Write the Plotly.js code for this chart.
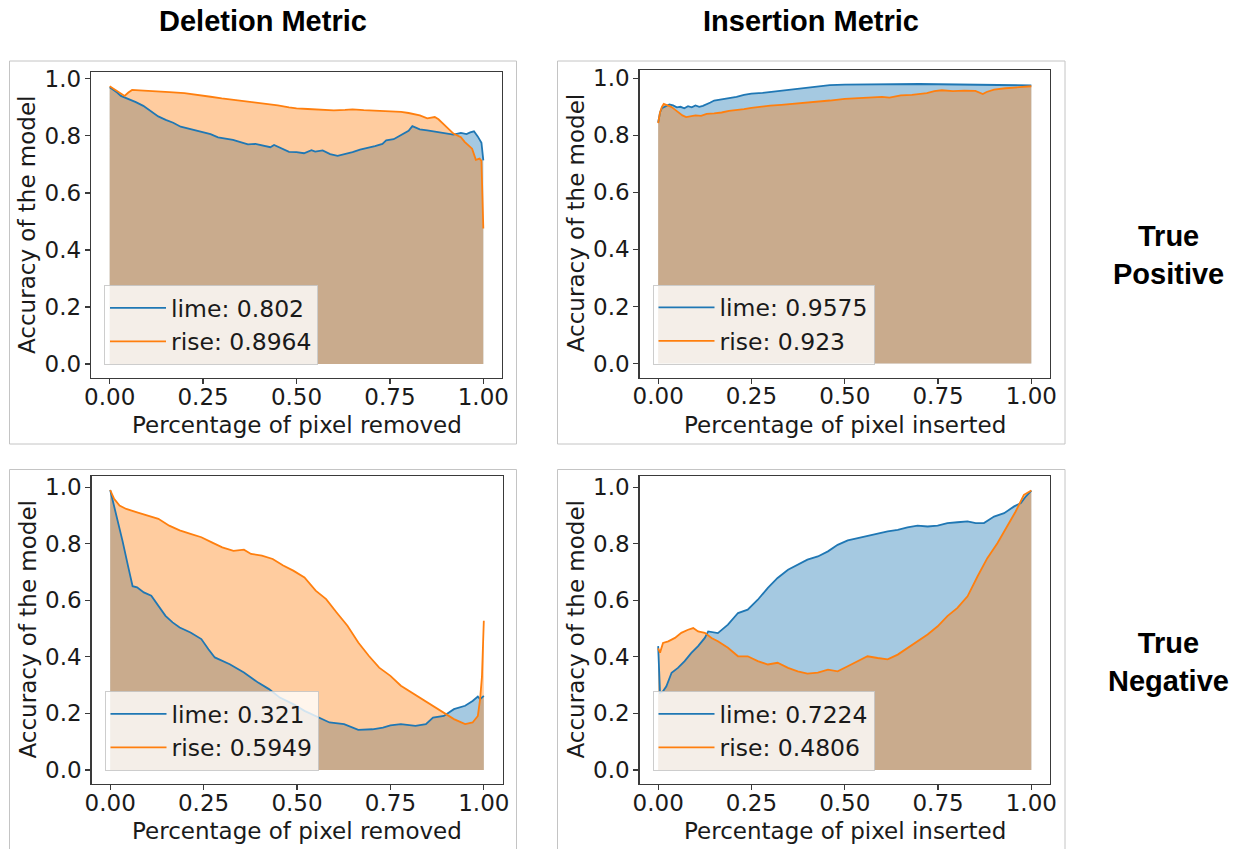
<!DOCTYPE html>
<html>
<head>
<meta charset="utf-8">
<script src="https://cdn.plot.ly/plotly-3.0.1.min.js"></script>
<style>html,body{margin:0;padding:0;background:#fff;}#chart{width:1239px;height:849px;}</style>
</head>
<body>
<div id="chart"></div>
<script>
// ---------- Data ----------
const colTitles = ["Deletion Metric", "Insertion Metric"];
const rowTitles = ["True<br>Positive", "True<br>Negative"];
const xAxisTitles = ["Percentage of pixel removed", "Percentage of pixel inserted"];
const yAxisTitle = "Accuracy of the model";
const xTickVals = [0, 0.25, 0.5, 0.75, 1.0];
const yTickVals = [0, 0.2, 0.4, 0.6, 0.8, 1.0];

// Deletion, True Positive
const delTPLimeName = "lime: 0.802";
const delTPLimeX = [0,0.01,0.02,0.03,0.04,0.05,0.07,0.09,0.11,0.13,0.15,0.17,0.19,0.21,0.23,0.25,0.27,0.29,0.31,0.33,0.35,0.37,0.39,0.41,0.43,0.44,0.46,0.48,0.50,0.52,0.54,0.55,0.57,0.59,0.61,0.63,0.65,0.67,0.69,0.71,0.73,0.74,0.76,0.78,0.80,0.81,0.83,0.85,0.87,0.89,0.91,0.92,0.94,0.955,0.965,0.975,0.985,0.99,0.995,1.0];
const delTPLimeY = [0.970,0.962,0.952,0.940,0.935,0.928,0.918,0.905,0.886,0.868,0.856,0.846,0.832,0.826,0.820,0.812,0.806,0.795,0.790,0.786,0.778,0.770,0.772,0.766,0.760,0.768,0.755,0.744,0.743,0.739,0.750,0.745,0.749,0.736,0.730,0.736,0.743,0.752,0.757,0.764,0.772,0.784,0.788,0.802,0.818,0.834,0.823,0.819,0.815,0.810,0.808,0.804,0.810,0.806,0.812,0.816,0.798,0.784,0.776,0.714];
const delTPRiseName = "rise: 0.8964";
const delTPRiseX = [0,0.01,0.02,0.03,0.04,0.05,0.06,0.08,0.10,0.13,0.16,0.20,0.24,0.27,0.30,0.33,0.36,0.40,0.43,0.45,0.48,0.50,0.53,0.55,0.58,0.60,0.63,0.65,0.68,0.70,0.73,0.75,0.78,0.80,0.83,0.85,0.87,0.88,0.90,0.92,0.94,0.95,0.97,0.98,0.99,0.995,1.0];
const delTPRiseY = [0.974,0.965,0.955,0.946,0.940,0.952,0.961,0.959,0.958,0.955,0.953,0.950,0.944,0.937,0.931,0.926,0.921,0.916,0.911,0.907,0.900,0.896,0.894,0.892,0.890,0.889,0.891,0.893,0.890,0.889,0.887,0.886,0.884,0.880,0.872,0.861,0.866,0.858,0.833,0.808,0.795,0.779,0.755,0.716,0.720,0.712,0.475];

// Insertion, True Positive
const insTPLimeName = "lime: 0.9575";
const insTPLimeX = [0,0.005,0.01,0.02,0.03,0.04,0.05,0.06,0.07,0.08,0.09,0.10,0.11,0.12,0.13,0.14,0.15,0.17,0.19,0.21,0.23,0.25,0.28,0.30,0.33,0.36,0.40,0.43,0.46,0.50,0.55,0.60,0.65,0.70,0.75,0.80,0.85,0.90,0.95,1.0];
const insTPLimeY = [0.845,0.880,0.895,0.902,0.908,0.905,0.898,0.900,0.895,0.902,0.898,0.905,0.900,0.903,0.908,0.915,0.922,0.926,0.931,0.935,0.942,0.946,0.949,0.952,0.958,0.963,0.967,0.972,0.976,0.978,0.979,0.980,0.981,0.980,0.979,0.978,0.978,0.977,0.977,0.975];
const insTPRiseName = "rise: 0.923";
const insTPRiseX = [0,0.005,0.01,0.015,0.025,0.035,0.045,0.055,0.065,0.075,0.085,0.10,0.115,0.13,0.15,0.17,0.19,0.21,0.23,0.25,0.27,0.30,0.33,0.36,0.40,0.43,0.46,0.50,0.53,0.56,0.60,0.62,0.65,0.68,0.70,0.72,0.74,0.76,0.79,0.82,0.85,0.87,0.88,0.90,0.93,0.96,0.98,1.0];
const insTPRiseY = [0.843,0.880,0.900,0.910,0.905,0.900,0.890,0.880,0.870,0.864,0.866,0.870,0.868,0.875,0.877,0.880,0.886,0.888,0.892,0.896,0.900,0.904,0.907,0.910,0.915,0.918,0.922,0.928,0.930,0.933,0.935,0.932,0.940,0.942,0.945,0.948,0.955,0.958,0.955,0.957,0.956,0.945,0.952,0.960,0.965,0.968,0.970,0.972];

// Deletion, True Negative
const delTNLimeName = "lime: 0.321";
const delTNLimeX = [0,0.014,0.033,0.048,0.06,0.072,0.09,0.11,0.13,0.148,0.167,0.186,0.215,0.244,0.263,0.28,0.32,0.358,0.396,0.425,0.454,0.49,0.52,0.55,0.587,0.626,0.664,0.702,0.73,0.75,0.778,0.817,0.845,0.864,0.893,0.92,0.95,0.97,0.984,0.99,0.995,1.0];
const delTNLimeY = [0.990,0.915,0.810,0.720,0.650,0.646,0.628,0.616,0.580,0.545,0.522,0.504,0.486,0.463,0.427,0.398,0.374,0.345,0.309,0.286,0.256,0.233,0.209,0.191,0.168,0.162,0.142,0.144,0.150,0.158,0.162,0.156,0.162,0.185,0.191,0.215,0.227,0.244,0.260,0.250,0.258,0.262];
const delTNRiseName = "rise: 0.5949";
const delTNRiseX = [0,0.01,0.025,0.043,0.072,0.10,0.129,0.158,0.186,0.215,0.244,0.272,0.30,0.33,0.358,0.377,0.406,0.435,0.463,0.49,0.52,0.55,0.578,0.606,0.635,0.664,0.692,0.72,0.75,0.778,0.807,0.836,0.864,0.893,0.92,0.95,0.97,0.984,0.99,0.995,1.0];
const delTNRiseY = [0.990,0.960,0.935,0.923,0.911,0.900,0.888,0.864,0.847,0.835,0.823,0.805,0.787,0.775,0.779,0.764,0.758,0.746,0.723,0.705,0.681,0.634,0.604,0.557,0.510,0.451,0.404,0.362,0.333,0.298,0.274,0.250,0.227,0.203,0.180,0.162,0.168,0.191,0.250,0.330,0.528];

// Insertion, True Negative
const insTNLimeName = "lime: 0.7224";
const insTNLimeX = [0,0.005,0.013,0.022,0.036,0.053,0.071,0.089,0.107,0.125,0.134,0.16,0.187,0.214,0.24,0.267,0.294,0.32,0.348,0.374,0.40,0.428,0.455,0.481,0.508,0.535,0.561,0.588,0.615,0.642,0.668,0.695,0.722,0.749,0.775,0.802,0.829,0.851,0.873,0.90,0.927,0.954,0.972,0.985,1.0];
const insTNLimeY = [0.438,0.273,0.278,0.296,0.344,0.361,0.385,0.414,0.438,0.467,0.490,0.484,0.514,0.555,0.567,0.602,0.644,0.679,0.708,0.726,0.744,0.755,0.773,0.796,0.812,0.820,0.828,0.838,0.844,0.849,0.858,0.864,0.861,0.864,0.873,0.876,0.879,0.873,0.873,0.896,0.908,0.932,0.944,0.967,0.988];
const insTNRiseName = "rise: 0.4806";
const insTNRiseX = [0,0.005,0.013,0.027,0.045,0.062,0.08,0.094,0.107,0.125,0.143,0.16,0.187,0.214,0.24,0.267,0.294,0.32,0.348,0.374,0.40,0.428,0.455,0.481,0.508,0.535,0.561,0.588,0.615,0.642,0.668,0.695,0.722,0.749,0.775,0.802,0.829,0.856,0.882,0.909,0.936,0.958,0.98,1.0];
const insTNRiseY = [0.430,0.415,0.449,0.455,0.467,0.485,0.496,0.502,0.490,0.485,0.467,0.455,0.432,0.402,0.402,0.385,0.373,0.379,0.361,0.349,0.341,0.344,0.355,0.349,0.367,0.385,0.402,0.396,0.391,0.408,0.432,0.455,0.479,0.508,0.544,0.573,0.614,0.685,0.749,0.802,0.861,0.914,0.973,0.988];

// ---------- Styling ----------
const BLUE = "#1f77b4", ORANGE = "#ff7f0e";
const BLUE_FILL = "rgba(31,119,180,0.4)", ORANGE_FILL = "rgba(255,127,14,0.4)";
const W = 1239, H = 849;
const FONT = "DejaVu Sans, Verdana, sans-serif";
const TITLE_FONT = "Liberation Sans, Arial, sans-serif";
const AX_SIZE = 23;
const px = v => v / W, py = v => 1 - v / H;

// panel geometry (pixels): [left, right, top, bottom] of each plot area
const panels = [
  {ax: "", box: [91, 502, 72, 378], yr: [-0.04875, 1.02375], leg: "legend",
   lime: [delTPLimeX, delTPLimeY, delTPLimeName], rise: [delTPRiseX, delTPRiseY, delTPRiseName], xt: 0},
  {ax: "2", box: [639.5, 1050, 70, 377.5], yr: [-0.049, 1.029], leg: "legend2",
   lime: [insTPLimeX, insTPLimeY, insTPLimeName], rise: [insTPRiseX, insTPRiseY, insTPRiseName], xt: 1},
  {ax: "3", box: [91.5, 502.5, 476, 784], yr: [-0.0495, 1.0395], leg: "legend3",
   lime: [delTNLimeX, delTNLimeY, delTNLimeName], rise: [delTNRiseX, delTNRiseY, delTNRiseName], xt: 0},
  {ax: "4", box: [639.5, 1050, 476, 784], yr: [-0.0495, 1.0395], leg: "legend4",
   lime: [insTNLimeX, insTNLimeY, insTNLimeName], rise: [insTNRiseX, insTNRiseY, insTNRiseName], xt: 1}
];

const traces = [];
const layout = {
  width: W, height: H,
  margin: {l: 0, r: 0, t: 0, b: 0},
  paper_bgcolor: "#ffffff", plot_bgcolor: "#ffffff",
  showlegend: true,
  shapes: [], annotations: []
};

panels.forEach(p => {
  const xa = "x" + p.ax, ya = "y" + p.ax;
  const series = [[p.lime, BLUE, BLUE_FILL], [p.rise, ORANGE, ORANGE_FILL]];
  // shaded areas under the curves first
  series.forEach(([s, col, fcol]) => {
    traces.push({x: s[0], y: s[1], name: s[2], type: "scatter", mode: "lines",
      line: {color: col, width: 0}, fill: "tozeroy", fillcolor: fcol, showlegend: false,
      xaxis: xa, yaxis: ya, legend: p.leg, hoverinfo: "skip"});
  });
  // then the curves (carry the legend entries)
  series.forEach(([s, col]) => {
    traces.push({x: s[0], y: s[1], name: s[2], type: "scatter", mode: "lines",
      line: {color: col, width: 1.8}, showlegend: true,
      xaxis: xa, yaxis: ya, legend: p.leg, hoverinfo: "skip"});
  });
  const [l, r, t, b] = p.box;
  const axCommon = {showgrid: false, zeroline: false, showline: true, mirror: true,
    linecolor: "#3a3a3a", linewidth: 1.2, ticks: "outside", ticklen: 5, tickwidth: 1.2,
    tickcolor: "#3a3a3a",
    tickfont: {family: FONT, size: AX_SIZE, color: "#1a1a1a"}, fixedrange: true};
  layout["xaxis" + p.ax] = Object.assign({}, axCommon, {
    domain: [px(l), px(r)], range: [-0.05, 1.05], anchor: ya, ticklabelstandoff: -7,
    tickvals: xTickVals, tickformat: ".2f"});
  layout["yaxis" + p.ax] = Object.assign({}, axCommon, {
    domain: [py(b), py(t)], range: p.yr, anchor: xa, ticklabelstandoff: -1,
    tickvals: yTickVals, tickformat: ".1f"});
  layout[p.leg] = {x: px(l + 13), y: py(b - 13), xanchor: "left", yanchor: "bottom",
    bgcolor: "rgba(255,255,255,0.8)", bordercolor: "rgba(200,200,200,0.9)", borderwidth: 1,
    font: {family: FONT, size: 23.5, color: "#1a1a1a"}, itemwidth: 56};
  // axis titles
  layout.annotations.push({text: xAxisTitles[p.xt], xref: "paper", yref: "paper",
    x: px((l + r) / 2), y: py(b + 47), xanchor: "center", yanchor: "middle", showarrow: false,
    font: {family: FONT, size: AX_SIZE, color: "#1a1a1a"}});
  layout.annotations.push({text: yAxisTitle, xref: "paper", yref: "paper", textangle: -90,
    x: px(l - 64), y: py((t + b) / 2), xanchor: "center", yanchor: "middle", showarrow: false,
    font: {family: FONT, size: AX_SIZE, color: "#1a1a1a"}});
});

// panel frames (light grey boxes around each subplot)
const frames = [[9.5, 516.5, 61, 444], [557.5, 1065, 61, 444], [9.5, 516.5, 469.5, 852], [557.5, 1065, 469.5, 852]];
frames.forEach(f => layout.shapes.push({type: "rect", xref: "paper", yref: "paper",
  x0: px(f[0]), x1: px(f[1]), y0: py(f[3]), y1: py(f[2]), line: {color: "#c4c4c4", width: 1}, layer: "below"}));

// column titles and row labels
layout.annotations.push({text: "<b>" + colTitles[0] + "</b>", xref: "paper", yref: "paper",
  x: px(263), y: py(21), xanchor: "center", yanchor: "middle", showarrow: false,
  font: {family: TITLE_FONT, size: 29, color: "#000"}});
layout.annotations.push({text: "<b>" + colTitles[1] + "</b>", xref: "paper", yref: "paper",
  x: px(811), y: py(21), xanchor: "center", yanchor: "middle", showarrow: false,
  font: {family: TITLE_FONT, size: 29, color: "#000"}});
layout.annotations.push({text: "<b>" + rowTitles[0] + "</b>", xref: "paper", yref: "paper",
  x: px(1168), y: py(255), xanchor: "center", yanchor: "middle", showarrow: false,
  font: {family: TITLE_FONT, size: 29, color: "#000"}});
layout.annotations.push({text: "<b>" + rowTitles[1] + "</b>", xref: "paper", yref: "paper",
  x: px(1168), y: py(662), xanchor: "center", yanchor: "middle", showarrow: false,
  font: {family: TITLE_FONT, size: 29, color: "#000"}});

Plotly.newPlot("chart", traces, layout, {staticPlot: true, displayModeBar: false});
</script>
</body>
</html>
